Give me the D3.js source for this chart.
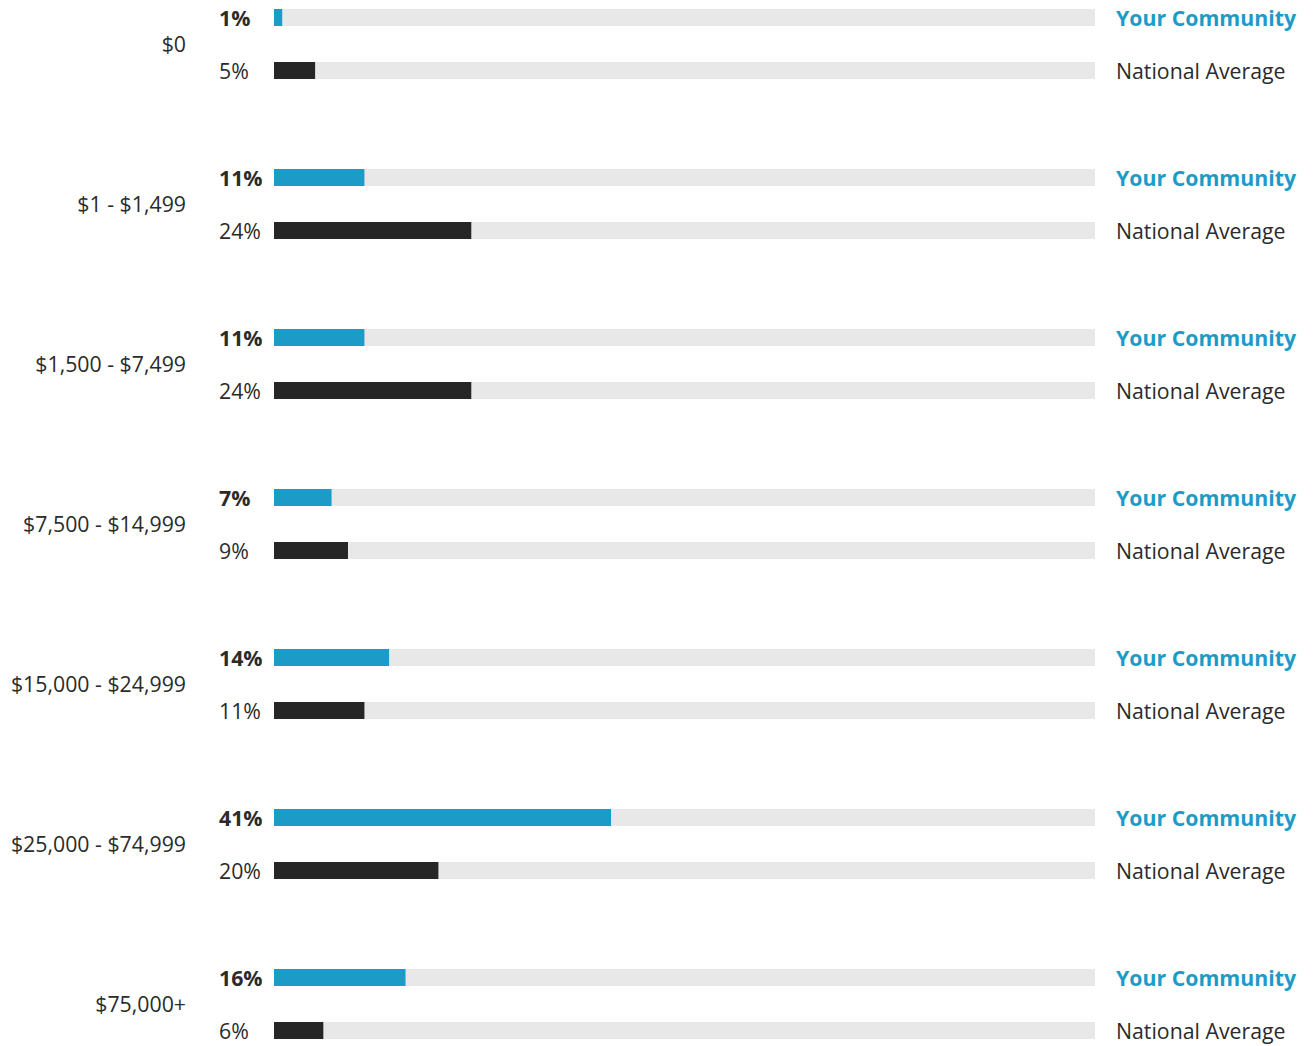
<!DOCTYPE html>
<html>
<head>
<meta charset="utf-8">
<script src="https://cdn.jsdelivr.net/npm/d3@7"></script>
<style>
html,body{margin:0;padding:0;background:#fff;}
svg{display:block;font-family:"Open Sans",sans-serif;}
</style>
</head>
<body>
<svg id="chart" width="1315" height="1046"></svg>
<script>
const categories = ["$0", "$1 - $1,499", "$1,500 - $7,499", "$7,500 - $14,999", "$15,000 - $24,999", "$25,000 - $74,999", "$75,000+"];
const communityValues = [1, 11, 11, 7, 14, 41, 16];
const nationalValues = [5, 24, 24, 9, 11, 20, 6];
const seriesNames = ["Your Community", "National Average"];

const svg = d3.select("#chart");
const x = d3.scaleLinear().domain([0, 100]).range([274, 1096]);
const y = d3.scaleBand().domain(categories).range([9, 9 + 160 * categories.length]).paddingInner(0).paddingOuter(0);
const barH = 17;

const colors = {"Your Community": "#1c9bc9", "National Average": "#262626"};

const rows = [];
categories.forEach((c, i) => {
  rows.push({cat: c, series: seriesNames[0], v: communityValues[i]});
  rows.push({cat: c, series: seriesNames[1], v: nationalValues[i]});
});

const rowY = d => y(d.cat) + (d.series === seriesNames[0] ? 0 : 53);

// tracks
svg.selectAll("rect.track").data(rows).enter().append("rect")
  .attr("class", "track")
  .attr("x", x(0)).attr("y", rowY)
  .attr("width", x(100) - x(0) - 1).attr("height", barH)
  .attr("fill", "#e8e8e8");

// bars
svg.selectAll("rect.bar").data(rows).enter().append("rect")
  .attr("class", "bar")
  .attr("x", x(0)).attr("y", rowY)
  .attr("width", d => x(d.v) - x(0)).attr("height", barH)
  .attr("fill", d => colors[d.series]);

// value labels
svg.selectAll("text.val").data(rows).enter().append("text")
  .attr("class", "val")
  .attr("x", 219).attr("y", d => rowY(d) + 17)
  .attr("font-size", 21.3)
  .attr("font-weight", d => d.series === seriesNames[0] ? 700 : 400)
  .attr("fill", "#2b2b2b")
  .text(d => d.v + "%");

// series labels
svg.selectAll("text.ser").data(rows).enter().append("text")
  .attr("class", "ser")
  .attr("x", 1116).attr("y", d => rowY(d) + 17)
  .attr("font-size", 21.3)
  .attr("font-weight", d => d.series === seriesNames[0] ? 700 : 400)
  .attr("fill", d => d.series === seriesNames[0] ? "#1c9bc9" : "#2b2b2b")
  .text(d => d.series);

// category labels
svg.selectAll("text.cat").data(categories).enter().append("text")
  .attr("class", "cat")
  .attr("x", 186).attr("y", c => y(c) + 43)
  .attr("text-anchor", "end")
  .attr("font-size", 21.3)
  .attr("fill", "#2b2b2b")
  .text(c => c);
</script>
</body>
</html>
